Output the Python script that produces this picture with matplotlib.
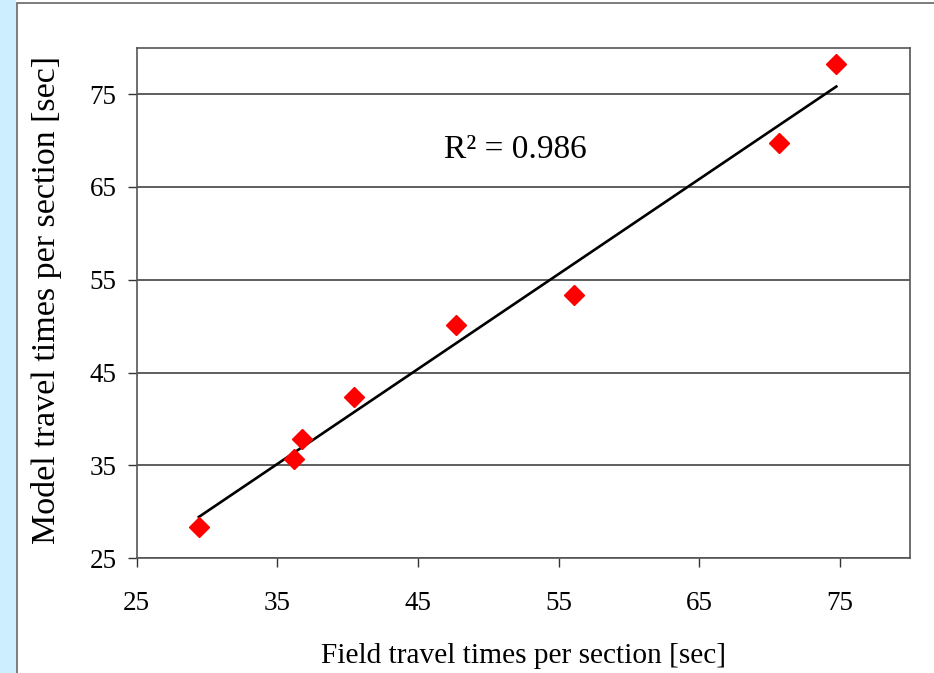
import numpy as np
import matplotlib
matplotlib.use("Agg")
import matplotlib.pyplot as plt
from matplotlib.patches import Rectangle

field_times = [29.42, 36.19, 36.79, 40.43, 47.73, 56.13, 70.69, 74.76]
model_times = [28.41, 35.68, 37.90, 42.36, 50.16, 53.40, 69.76, 78.28]
ticks = [25, 35, 45, 55, 65, 75]
r2_label = "R² = 0.986"

plt.rcParams['font.family'] = ['Liberation Serif', 'DejaVu Serif']

W, H = 934, 673
fig = plt.figure(figsize=(W / 100, H / 100), dpi=100)
fig.patch.set_facecolor('white')

# light blue strip on the left and outer frame
fig.add_artist(Rectangle((0, 0), 15.5 / W, 1, transform=fig.transFigure,
                         facecolor='#cdeefe', edgecolor='none', zorder=0))
fig.add_artist(Rectangle((16.5 / W, -0.1), 1.2, 1.1 - 3.5 / H, transform=fig.transFigure,
                         facecolor='none', edgecolor='#666666', lw=1.2, zorder=1))

left, right = 136.7 / W, 910 / W
bottom, top = 1 - 558.3 / H, 1 - 47.7 / H
ax = fig.add_axes([left, bottom, right - left, top - bottom])

ax.set_xlim(25, 80)
ax.set_ylim(25, 80)
ax.set_xticks(ticks)
ax.set_yticks(ticks)
ax.tick_params(direction='out', length=6.5, width=1, colors='#333333',
               labelsize=19.5, labelcolor='black')
ax.tick_params(axis='x', pad=17)
ax.tick_params(axis='y', pad=8)
for s in ax.spines.values():
    s.set_color('#555555')
    s.set_linewidth(1.2)
ax.yaxis.grid(True, color='#333333', lw=1.1)
ax.set_axisbelow(True)

x = np.array(field_times)
y = np.array(model_times)
coef = np.polyfit(x, y, 1)
xl = np.array([x.min(), x.max()])
ax.plot(xl, np.polyval(coef, xl), color='black', lw=1.9, zorder=3)
ax.plot(x, y, linestyle='none', marker='D', ms=10, color='#ff0000', mec='#ff0000', zorder=4)

ax.text(51.9, 69.0, r2_label, fontsize=24, ha='center', va='center')

fig.text(523.5 / W, 1 - 656 / H, "Field travel times per section [sec]",
         fontsize=21.2, ha='center', va='center')
fig.text(47 / W, 1 - 300 / H, "Model travel times per section [sec]",
         fontsize=24.5, ha='center', va='center', rotation=90)

fig.savefig("out.png", dpi=100, facecolor='white')
